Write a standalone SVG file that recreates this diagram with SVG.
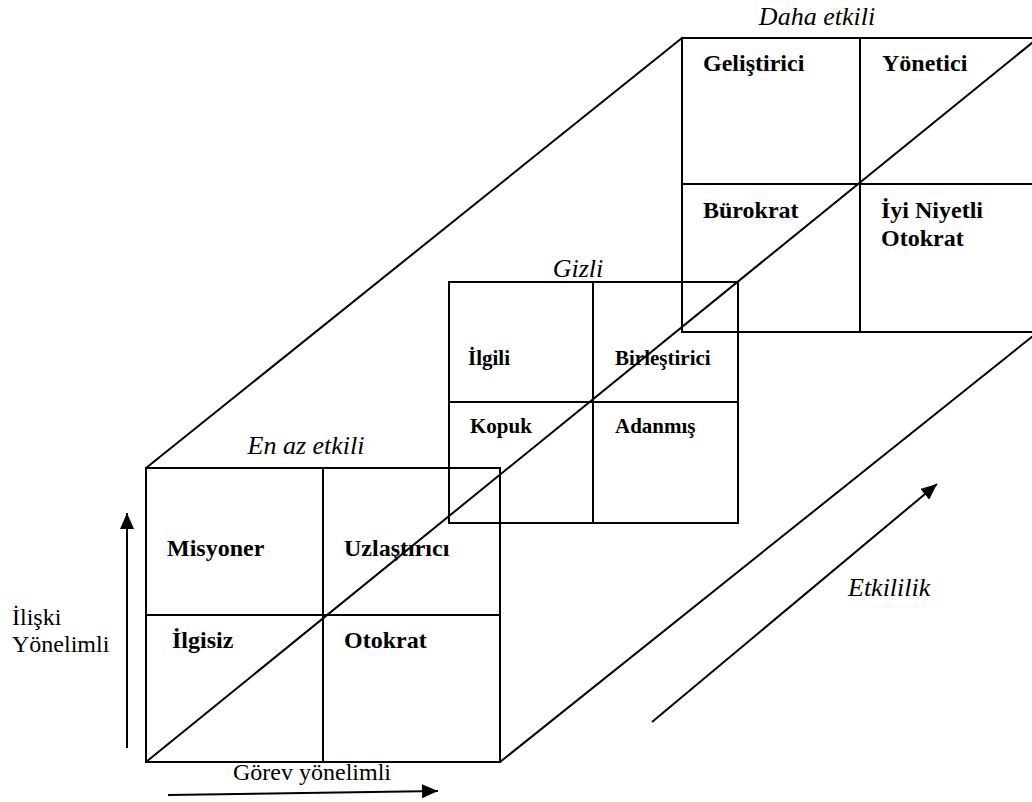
<svg xmlns="http://www.w3.org/2000/svg" width="1032" height="802" viewBox="0 0 1032 802">
<style>
.ln{stroke:#000;stroke-width:2;fill:none}
.b{font-family:"Liberation Serif","Times New Roman",serif;font-weight:bold;font-size:24px;fill:#000}
.bm{font-family:"Liberation Serif","Times New Roman",serif;font-weight:bold;font-size:21px;fill:#000}
.it{font-family:"Liberation Serif","Times New Roman",serif;font-style:italic;font-size:26px;fill:#000}
.rg{font-family:"Liberation Serif","Times New Roman",serif;font-size:24px;fill:#000}
</style>
<defs>
<marker id="ah" viewBox="0 0 16 14" refX="16" refY="7" markerWidth="16" markerHeight="14" markerUnits="userSpaceOnUse" orient="auto">
<path d="M0,0 L16,7 L0,14 Z" fill="#000"/>
</marker>
</defs>
<rect width="1032" height="802" fill="#fff"/>
<g id="connectors">
<line class="ln" x1="146" y1="468" x2="682" y2="38"/>
<line class="ln" x1="146" y1="762" x2="1038" y2="38"/>
<line class="ln" x1="500" y1="762" x2="1038" y2="332"/>
<line class="ln" x1="127" y1="748" x2="127" y2="513" marker-end="url(#ah)"/>
<line class="ln" x1="168" y1="795" x2="438" y2="791" marker-end="url(#ah)"/>
<line class="ln" x1="652" y1="722" x2="937" y2="484" marker-end="url(#ah)"/>
</g>
<g id="box-back">
<rect class="ln" x="682" y="38" width="358" height="294"/>
<line class="ln" x1="860" y1="38" x2="860" y2="332"/>
<line class="ln" x1="682" y1="184" x2="1040" y2="184"/>
<text class="it" x="817" y="25" text-anchor="middle">Daha etkili</text>
<text class="b" x="703" y="71">Geliştirici</text>
<text class="b" x="882" y="71">Yönetici</text>
<text class="b" x="703" y="218">Bürokrat</text>
<text class="b" x="881" y="218">İyi Niyetli</text>
<text class="b" x="881" y="246">Otokrat</text>
</g>
<g id="box-middle">
<rect class="ln" x="449" y="282" width="289" height="241"/>
<line class="ln" x1="593" y1="282" x2="593" y2="523"/>
<line class="ln" x1="449" y1="402" x2="738" y2="402"/>
<text class="it" x="578" y="277" text-anchor="middle">Gizli</text>
<text class="bm" x="468" y="365">İlgili</text>
<text class="bm" x="615" y="365">Birleştirici</text>
<text class="bm" x="470" y="433">Kopuk</text>
<text class="bm" x="615" y="433">Adanmış</text>
</g>
<g id="box-front">
<rect class="ln" x="146" y="468" width="354" height="294"/>
<line class="ln" x1="323" y1="468" x2="323" y2="762"/>
<line class="ln" x1="146" y1="615" x2="500" y2="615"/>
<text class="it" x="306" y="454" text-anchor="middle">En az etkili</text>
<text class="b" x="167" y="556">Misyoner</text>
<text class="b" x="344" y="556">Uzlaştırıcı</text>
<text class="b" x="172" y="648">İlgisiz</text>
<text class="b" x="344" y="648">Otokrat</text>
</g>
<g id="labels">
<text class="rg" x="12" y="625">İlişki</text>
<text class="rg" x="12" y="652">Yönelimli</text>
<text class="rg" x="233" y="780">Görev yönelimli</text>
<text class="it" x="848" y="596">Etkililik</text>
</g>
</svg>
